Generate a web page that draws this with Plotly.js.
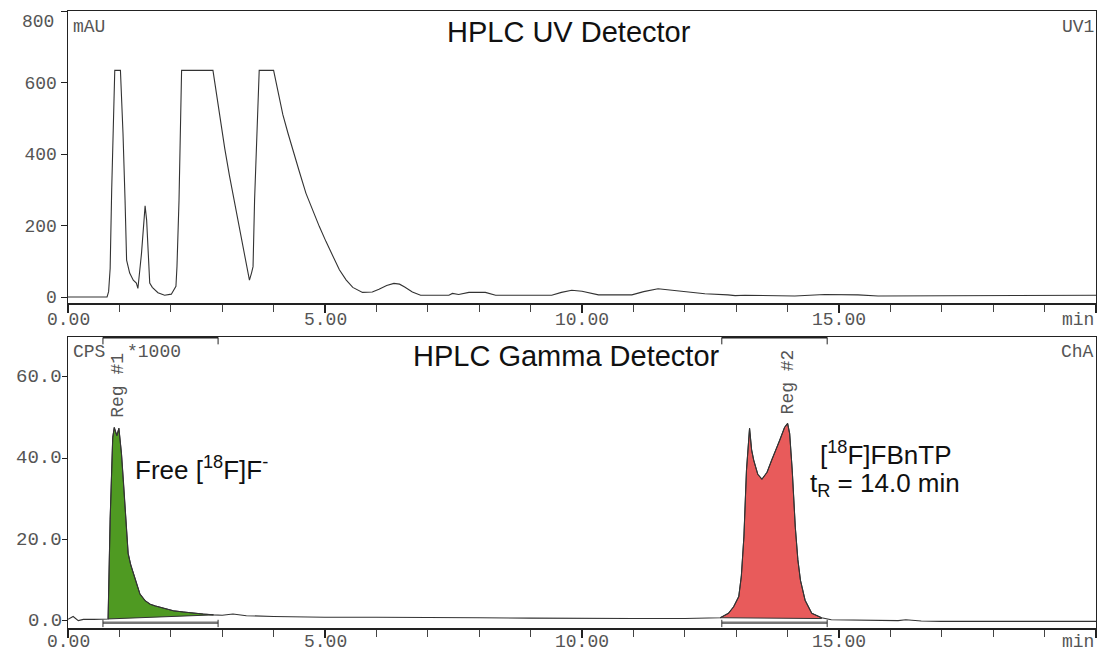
<!DOCTYPE html>
<html>
<head>
<meta charset="utf-8">
<script src="https://cdn.plot.ly/plotly-3.0.1.min.js"></script>
<style>
  html, body { margin: 0; padding: 0; background: #fff; }
  #chart { width: 1097px; height: 651px; }
</style>
</head>
<body>
<div id="chart"></div>
<script>
// UV absorbance trace (mAU vs retention time in min); detector saturates near 634 mAU
const uvTime = [0, 0.5, 0.76, 0.79, 0.82, 0.85, 0.88, 0.91, 1.02, 1.05, 1.07, 1.11, 1.14, 1.20, 1.27,
  1.33, 1.36, 1.43, 1.50, 1.53, 1.56, 1.59, 1.64, 1.75, 1.88, 2.01, 2.10, 2.12, 2.16, 2.18, 2.21,
  2.82, 2.88, 2.95, 3.05, 3.14, 3.24, 3.34, 3.44, 3.53, 3.57, 3.60, 3.63, 3.66, 3.70, 3.72,
  4.00, 4.08, 4.18, 4.28, 4.37, 4.50, 4.63, 4.76, 4.89, 5.02, 5.15, 5.28, 5.41, 5.54, 5.73, 5.92,
  6.05, 6.20, 6.34, 6.45, 6.55, 6.70, 6.86, 7.41, 7.48, 7.60, 7.80, 8.12, 8.32, 9.41, 9.60, 9.80,
  10.00, 10.32, 10.97, 11.20, 11.48, 11.94, 12.39, 12.84, 12.98, 13.17, 14.14, 14.72, 15.37,
  15.76, 19.19, 19.25, 20.0];
const uvSignal = [0, 0, 0, 15, 80, 300, 520, 634, 634, 551, 458, 271, 103, 67, 47,
  39, 24, 122, 255, 215, 103, 39, 27, 12, 5, 8, 30, 85, 271, 458, 634,
  634, 575, 500, 415, 340, 262, 185, 113, 47, 67, 85, 271, 411, 551, 634,
  634, 575, 510, 458, 411, 351, 290, 243, 197, 155, 113, 76, 48, 27, 13, 14,
  22, 32, 38, 36, 28, 14, 5, 5, 10, 7, 13, 13, 5, 5, 13, 19,
  16, 6, 6, 15, 23, 15, 9, 6, 4, 5, 3, 7, 6,
  3, 3, 5, 5];

// Radio (gamma) trace, counts per second x 1000
const gammaTime = [0, 0.1, 0.2, 0.3, 0.5, 0.7, 0.78, 0.82, 0.87, 0.90, 0.95, 0.99, 1.04, 1.08, 1.11,
  1.14, 1.17, 1.22, 1.27, 1.33, 1.40, 1.50, 1.60, 1.70, 1.79, 1.92, 2.05, 2.25, 2.44, 2.63, 2.83,
  3.00, 3.21, 3.47, 4.00, 4.63, 5.00, 6.00, 7.00, 8.00, 9.00, 10.00, 11.00, 12.00, 12.30, 12.69,
  12.85, 12.95, 13.05, 13.10, 13.15, 13.20, 13.26, 13.30, 13.34, 13.42, 13.50, 13.60, 13.69, 13.78,
  13.85, 13.94, 14.00, 14.04, 14.09, 14.15, 14.20, 14.25, 14.34, 14.47, 14.66, 14.85, 15.50, 16.15,
  16.30, 16.45, 16.60, 17.00, 18.00, 19.00, 20.0];
const gammaCounts = [0.4, 1.1, 0.1, 0.4, 0.4, 0.4, 0.5, 25, 45, 47.5, 45.5, 47.3, 41.1, 34, 28,
  21.5, 16.6, 13.8, 11.7, 9.0, 6.6, 5.0, 4.1, 3.7, 3.4, 2.9, 2.5, 2.2, 1.9, 1.7, 1.5,
  1.4, 1.7, 1.3, 1.1, 0.9, 0.9, 0.9, 0.9, 0.8, 0.7, 0.6, 0.6, 0.6, 0.65, 0.8,
  1.9, 3.5, 6.0, 11, 20.7, 37, 47.3, 42, 39.5, 36, 34.8, 36.5, 39.5, 42.2,
  44.4, 47.5, 48.5, 46, 37, 23, 15, 10, 5.1, 1.9, 0.8, 0.3, 0.2, 0.1,
  0.3, 0.1, 0.0, -0.1, -0.1, -0.1, -0.1];

// Integration regions: start/end time and baseline level at each end
const regionNames = ["Reg #1", "Reg #2"];
const regionStart = [0.68, 12.72];
const regionEnd = [2.92, 14.77];
const peakStart = [0.78, 12.69];
const peakEnd = [2.83, 14.66];
const peakBaseStart = [0.5, 0.8];
const peakBaseEnd = [1.5, 0.6];
const peakColors = ["#4f9a22", "#e85b5b"];

// Peak labels
const freeLabel = "Free [<sup>18</sup>F]F<sup>-</sup>";
const productLabel = "[<sup>18</sup>F]FBnTP";
const retentionLabel = "t<sub>R</sub> = 14.0 min";

// Axis ticks
const timeTicks = [0, 5, 10, 15];
const timeTickText = ["0.00", "5.00", "10.00", "15.00"];
const timeUnit = "min";
const uvTicks = [0, 200, 400, 600, 800];
const uvTickText = ["0", "200", "400", "600", ""];
const gammaTicks = [0, 20, 40, 60];
const gammaTickText = ["0.0", "20.0", "40.0", "60.0"];

const monoFont = "Liberation Mono, Courier New, monospace";
const sansFont = "Liberation Sans, Arial, sans-serif";
const axisColor = "#222";
const labelGray = "#555";

const traces = [];

// filled peak areas between the trace and the sloped integration baseline
for (let r = 0; r < regionNames.length; r++) {
  const xs = [], ys = [];
  for (let i = 0; i < gammaTime.length; i++) {
    if (gammaTime[i] >= peakStart[r] && gammaTime[i] <= peakEnd[r]) {
      xs.push(gammaTime[i]); ys.push(gammaCounts[i]);
    }
  }
  xs.push(peakEnd[r], peakStart[r]);
  ys.push(peakBaseEnd[r], peakBaseStart[r]);
  traces.push({
    x: xs, y: ys, xaxis: "x2", yaxis: "y2", mode: "lines",
    fill: "toself", fillcolor: peakColors[r],
    line: { color: "#333", width: 1 }, hoverinfo: "skip"
  });
}

traces.push({
  x: uvTime, y: uvSignal, xaxis: "x", yaxis: "y", mode: "lines",
  line: { color: "#333", width: 1.1 }
});
traces.push({
  x: gammaTime, y: gammaCounts, xaxis: "x2", yaxis: "y2", mode: "lines",
  line: { color: "#333", width: 1.1 }
});

function timeAxis(anchor) {
  return {
    anchor: anchor, domain: [0, 1], range: [0, 20],
    showline: true, linecolor: axisColor, linewidth: 1.5, mirror: true,
    showgrid: false, zeroline: false, showticklabels: false,
    tickmode: "array", tickvals: timeTicks.concat([20]),
    ticks: "outside", ticklen: 8, tickwidth: 2, tickcolor: axisColor,
    minor: { dtick: 1, ticks: "outside", ticklen: 7, tickwidth: 1, tickcolor: "#444", showgrid: false }
  };
}

const shapes = [];
for (let r = 0; r < regionNames.length; r++) {
  const a = regionStart[r], b = regionEnd[r];
  // top bracket
  shapes.push({ type: "line", xref: "x2", yref: "y2", x0: a, x1: b, y0: 69.6, y1: 69.6, line: { color: "#222", width: 2 } });
  shapes.push({ type: "line", xref: "x2", yref: "y2", x0: a, x1: a, y0: 69.6, y1: 67.9, line: { color: "#222", width: 1 } });
  shapes.push({ type: "line", xref: "x2", yref: "y2", x0: b, x1: b, y0: 69.6, y1: 67.9, line: { color: "#222", width: 1 } });
  // bottom bracket
  shapes.push({ type: "line", xref: "x2", yref: "y2", x0: a, x1: b, y0: -0.45, y1: -0.45, line: { color: "#777", width: 2.5 } });
  shapes.push({ type: "line", xref: "x2", yref: "y2", x0: a, x1: a, y0: 0.3, y1: -1.5, line: { color: "#333", width: 1 } });
  shapes.push({ type: "line", xref: "x2", yref: "y2", x0: b, x1: b, y0: 0.3, y1: -1.5, line: { color: "#333", width: 1 } });
}

const monoLabel = { family: monoFont, size: 18, color: labelGray };

const annotations = [
  { text: "HPLC UV Detector", xref: "paper", yref: "paper", x: 0.487, y: 0.966, xanchor: "center", yanchor: "middle", showarrow: false, font: { family: sansFont, size: 29, color: "#111" } },
  { text: "HPLC Gamma Detector", xref: "paper", yref: "paper", x: 0.485, y: 0.441, xanchor: "center", yanchor: "middle", showarrow: false, font: { family: sansFont, size: 29, color: "#111" } },
  { text: "mAU", xref: "paper", yref: "paper", x: 0.003, y: 0.974, xanchor: "left", yanchor: "middle", showarrow: false, font: monoLabel },
  { text: "UV1", xref: "paper", yref: "paper", x: 1.0, y: 0.974, xanchor: "right", yanchor: "middle", showarrow: false, font: monoLabel },
  { text: "CPS\u00a0\u00a0*1000", xref: "paper", yref: "paper", x: 0.003, y: 0.447, xanchor: "left", yanchor: "middle", showarrow: false, font: monoLabel },
  { text: "ChA", xref: "paper", yref: "paper", x: 1.0, y: 0.447, xanchor: "right", yanchor: "middle", showarrow: false, font: monoLabel },
  { text: "800", xref: "paper", yref: "paper", x: -0.012, y: 0.982, xanchor: "right", yanchor: "middle", showarrow: false, font: monoLabel },
  { text: regionNames[0], xref: "x2", yref: "paper", x: 0.97, y: 0.394, textangle: -90, xanchor: "center", yanchor: "middle", showarrow: false, font: monoLabel },
  { text: regionNames[1], xref: "x2", yref: "paper", x: 14.0, y: 0.399, textangle: -90, xanchor: "center", yanchor: "middle", showarrow: false, font: monoLabel },
  { text: freeLabel, xref: "x2", yref: "y2", x: 1.26, y: 37.5, xanchor: "left", yanchor: "middle", showarrow: false, font: { family: sansFont, size: 26, color: "#111" } },
  { text: productLabel, xref: "x2", yref: "y2", x: 15.9, y: 41.2, xanchor: "center", yanchor: "middle", showarrow: false, font: { family: sansFont, size: 26, color: "#111" } },
  { text: retentionLabel, xref: "x2", yref: "y2", x: 15.9, y: 33.4, xanchor: "center", yanchor: "middle", showarrow: false, font: { family: sansFont, size: 26, color: "#111" } }
];

// time-axis labels for both panels, with the unit at the right end
const labelRows = [{ xref: "x", y: 0.4992 }, { xref: "x2", y: -0.0227 }];
labelRows.forEach(function (row) {
  for (let i = 0; i < timeTicks.length; i++) {
    annotations.push({ text: timeTickText[i], xref: row.xref, yref: "paper", x: timeTicks[i], y: row.y,
      xanchor: "center", yanchor: "middle", showarrow: false, font: monoLabel });
  }
  annotations.push({ text: timeUnit, xref: "paper", yref: "paper", x: 1.0, y: row.y,
    xanchor: "right", yanchor: "middle", showarrow: false, font: monoLabel });
});

// count-axis labels sit close against their tick marks
for (let i = 0; i < gammaTicks.length; i++) {
  annotations.push({ text: gammaTickText[i], xref: "paper", yref: "y2", x: -0.004, y: gammaTicks[i],
    xanchor: "right", yanchor: "middle", showarrow: false, font: { family: monoFont, size: 19, color: labelGray } });
}

const layout = {
  width: 1097, height: 651,
  margin: { l: 68, r: 1, t: 11, b: 23 },
  paper_bgcolor: "#fff", plot_bgcolor: "#fff",
  showlegend: false,
  xaxis: timeAxis("y"),
  xaxis2: timeAxis("y2"),
  yaxis: {
    anchor: "x", domain: [0.5267, 1], range: [-16.8, 800],
    showline: true, linecolor: axisColor, linewidth: 1.5, mirror: true,
    showgrid: false, zeroline: false,
    tickmode: "array", tickvals: uvTicks, ticktext: uvTickText,
    ticks: "outside", ticklen: 6, tickwidth: 1, tickcolor: axisColor,
    tickfont: monoLabel
  },
  yaxis2: {
    anchor: "x2", domain: [0, 0.4716], range: [-1.72, 69.7],
    showline: true, linecolor: axisColor, linewidth: 1.5, mirror: true,
    showgrid: false, zeroline: false, showticklabels: false,
    tickmode: "array", tickvals: gammaTicks,
    ticks: "outside", ticklen: 5, tickwidth: 1, tickcolor: axisColor
  },
  shapes: shapes,
  annotations: annotations
};

Plotly.newPlot("chart", traces, layout, { displayModeBar: false, staticPlot: true });
</script>
</body>
</html>
